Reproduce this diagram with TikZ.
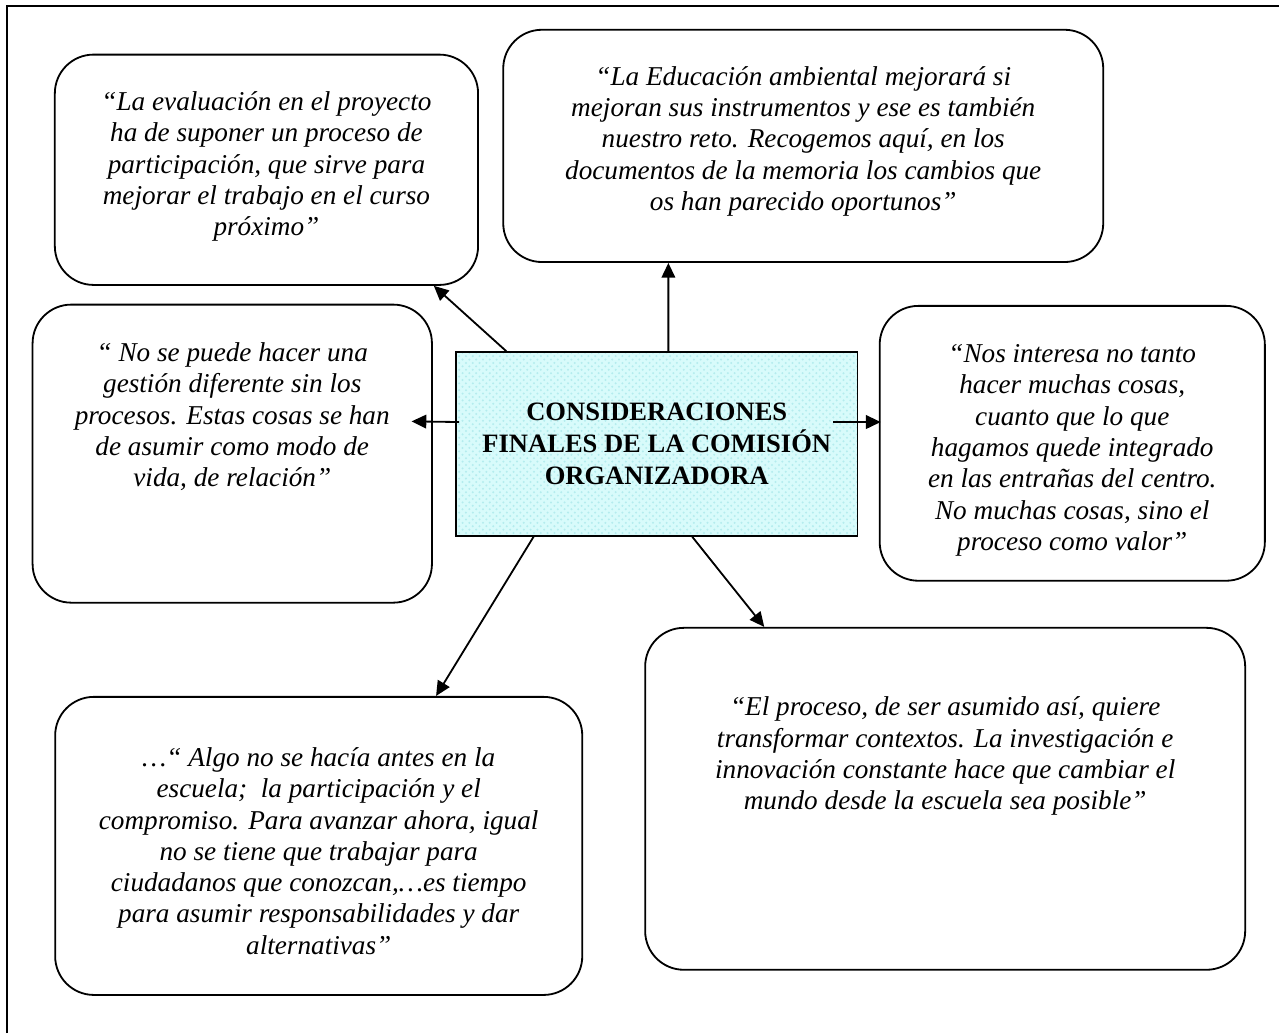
\documentclass[tikz,border=0pt]{standalone}
\usepackage{fontspec}
\setmainfont{Liberation Serif}
\usetikzlibrary{arrows.meta,positioning,calc,patterns}
\definecolor{titlefill}{HTML}{D8FBFB}
\definecolor{titledots}{HTML}{B4ECEE}
\tikzset{
  quotebox/.style={draw,line width=0.8pt,rounded corners=0.6cm,inner sep=0pt},
  quotetext/.style={font=\fontsize{12}{13.8}\selectfont\itshape,align=center,inner sep=0pt},
  arr/.style={-{Triangle[length=6.5pt,width=6pt]},line width=0.8pt}
}

\begin{document}
\begin{tikzpicture}
  \useasboundingbox (0,0) rectangle (19.8245,16.0115);
  % page frame (cut by the page edge)
  \draw[line width=0.8pt] (0.11,0) -- (0.11,15.92) -- (19.8245,15.92);

  % Central title box
  \node[draw,line width=0.8pt,preaction={fill=titlefill},pattern=crosshatch dots,pattern color=titledots,
        minimum width=6.22cm,minimum height=2.85cm,align=center,
        font=\fontsize{11.7}{14}\selectfont\bfseries] (centro) at (10.18,9.13)
        {CONSIDERACIONES\\FINALES DE LA COMISIÓN\\ORGANIZADORA};

  % Quote boxes
  \node[quotebox,minimum width=6.56cm,minimum height=3.57cm] (evalbox) at (4.13,13.38) {};
  \node[quotetext,yshift=0.05cm] (evaltxt) at (evalbox.center)
    {“La evaluación en el proyecto\\ha de suponer un proceso de\\participación, que sirve para\\mejorar el trabajo en el curso\\próximo”};

  \node[quotebox,minimum width=9.3cm,minimum height=3.6cm] (memoria) at (12.45,13.75) {};
  \node[quotetext,yshift=0.07cm] (memoriatxt) at (memoria.center)
    {“La Educación ambiental mejorará si\\mejoran sus instrumentos y ese es también\\nuestro reto. Recogemos aquí, en los\\documentos de la memoria los cambios que\\os han parecido oportunos”};

  \node[quotebox,minimum width=6.19cm,minimum height=4.62cm] (gestion) at (3.6,8.98) {};
  \node[quotetext,yshift=0.57cm] (gestiontxt) at (gestion.center)
    {“ No se puede hacer una\\gestión diferente sin los\\procesos. Estas cosas se han\\de asumir como modo de\\vida, de relación”};

  \node[quotebox,minimum width=5.97cm,minimum height=4.26cm] (valor) at (16.62,9.14) {};
  \node[quotetext,yshift=-0.11cm] (valortxt) at (valor.center)
    {“Nos interesa no tanto\\hacer muchas cosas,\\cuanto que lo que\\hagamos quede integrado\\en las entrañas del centro.\\No muchas cosas, sino el\\proceso como valor”};

  \node[quotebox,minimum width=9.3cm,minimum height=5.3cm] (contextos) at (14.65,3.63) {};
  \node[quotetext,yshift=0.66cm] (contextostxt) at (contextos.center)
    {“El proceso, de ser asumido así, quiere\\transformar contextos. La investigación e\\innovación constante hace que cambiar el\\mundo desde la escuela sea posible”};

  \node[quotebox,minimum width=8.17cm,minimum height=4.62cm] (alternativas) at (4.94,2.9) {};
  \node[quotetext,yshift=-0.08cm] (alternativastxt) at (alternativas.center)
    {…“ Algo no se hacía antes en la\\escuela;~ la participación y el\\compromiso. Para avanzar ahora, igual\\no se tiene que trabajar para\\ciudadanos que conozcan,…es tiempo\\para asumir responsabilidades y dar\\alternativas”};

  % Arrows out of the title box
  \draw[arr] ($(centro.north west)+(0.79,0)$) -- ($(evalbox.south east)+(-0.7,0)$);
  \draw[arr] ($(centro.north)+(0.18,0)$) -- ($(memoria.south)+(-2.09,0)$);
  \draw[arr] ($(centro.west)+(0.06,0.34)$) -- ($(gestion.east)+(-0.33,0.5)$);
  \draw[arr] ($(centro.east)+(-0.39,0.34)$) -- ($(valor.west)+(0.03,0.33)$);
  \draw[arr] ($(centro.south)+(0.55,0)$) -- ($(contextos.north west)+(1.86,0)$);
  \draw[arr] ($(centro.south)+(-1.91,0)$) -- ($(alternativas.north east)+(-2.28,0)$);
\end{tikzpicture}
\end{document}
